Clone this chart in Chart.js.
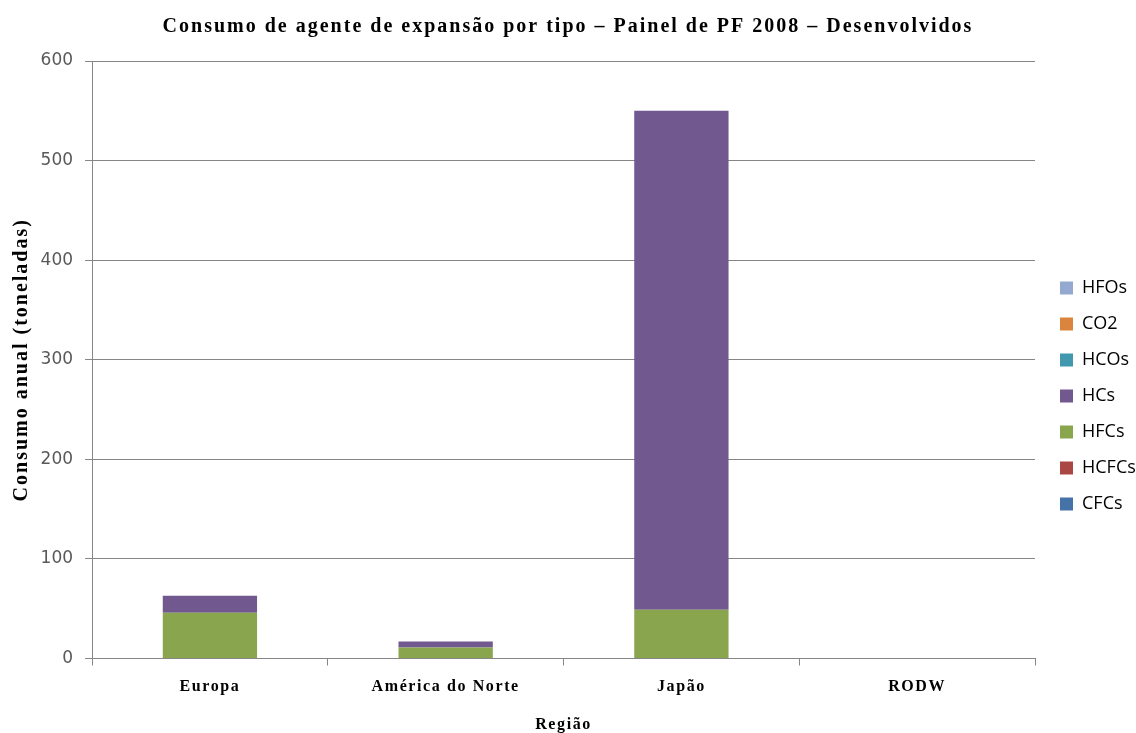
<!DOCTYPE html>
<html>
<head>
<meta charset="utf-8">
<script src="https://cdn.jsdelivr.net/npm/chart.js@4/dist/chart.umd.min.js"></script>
<style>
  html, body { margin: 0; padding: 0; background: #fff; }
  #wrap { width: 1136px; height: 733px; }
</style>
</head>
<body>
<div id="wrap"><canvas id="myChart"></canvas></div>
<script>
const regions = ['Europa', 'América do Norte', 'Japão', 'RODW'];

// tonnes per year, stacked bottom to top
const cfcs  = [0, 0, 0, 0];
const hcfcs = [0, 0, 0, 0];
const hfcs  = [46, 11, 49, 0];
const hcs   = [17, 6, 501, 0];
const hcos  = [0, 0, 0, 0];
const co2   = [0, 0, 0, 0];
const hfos  = [0, 0, 0, 0];

const yTicks = [0, 100, 200, 300, 400, 500, 600];

const SERIF = 'Liberation Serif';
const GRID = '#868686';

// the serif captions are set with a bit of open tracking
const proto = CanvasRenderingContext2D.prototype;
const baseFill = proto.fillText;
const baseMeasure = proto.measureText;
const setTracking = (ctx) => {
    if (!('letterSpacing' in ctx)) return;
    const m = /(\d+(?:\.\d+)?)px/.exec(ctx.font);
    ctx.letterSpacing = (m && ctx.font.includes(SERIF)) ? (parseFloat(m[1]) * 0.1).toFixed(2) + 'px' : '0px';
};
proto.fillText = function (...args) { setTracking(this); return baseFill.apply(this, args); };
proto.measureText = function (...args) { setTracking(this); return baseMeasure.apply(this, args); };

// legend sits a little right of the plot, level with the middle of it
const legendPlacement = {
    id: 'legendPlacement',
    afterLayout(chart) {
        chart.legend.left = chart.chartArea.right + 7;
        chart.legend.top = 261;
    }
};

const series = [
    ['CFCs', cfcs, '#4572A7'],
    ['HCFCs', hcfcs, '#AA4643'],
    ['HFCs', hfcs, '#89A54E'],
    ['HCs', hcs, '#71588F'],
    ['HCOs', hcos, '#4198AF'],
    ['CO2', co2, '#DB843D'],
    ['HFOs', hfos, '#93A9CF']
];

const ctx = document.getElementById('myChart').getContext('2d');
const myChart = new Chart(ctx, {
    type: 'bar',
    data: {
        labels: regions,
        datasets: series.map(([label, data, color]) => ({
            label: label,
            data: data,
            backgroundColor: color,
            borderWidth: 0,
            categoryPercentage: 0.4,
            barPercentage: 1
        }))
    },
    options: {
        responsive: true,
        maintainAspectRatio: false,
        animation: false,
        layout: { padding: { left: 0, right: 0, top: 0, bottom: 0 } },
        plugins: {
            title: {
                display: true,
                text: 'Consumo de agente de expansão por tipo – Painel de PF 2008 – Desenvolvidos',
                color: '#000',
                font: { family: SERIF, size: 20, weight: 'bold', lineHeight: 1.2 },
                padding: { top: 14.5, bottom: 22.5 }
            },
            legend: {
                position: 'right',
                align: 'start',
                reverse: true,
                maxWidth: 101,
                labels: {
                    boxWidth: 13,
                    boxHeight: 13,
                    padding: 18,
                    color: '#000',
                    font: { family: 'Open Sans', size: 18 }
                }
            },
            tooltip: { enabled: false }
        },
        scales: {
            x: {
                stacked: true,
                grid: { drawOnChartArea: false, color: GRID, tickLength: 7 },
                border: { color: GRID },
                ticks: {
                    color: '#000',
                    padding: 12,
                    font: { family: SERIF, size: 16, weight: 'bold', lineHeight: 1.2 }
                },
                title: {
                    display: true,
                    text: 'Região',
                    color: '#000',
                    font: { family: SERIF, size: 16, weight: 'bold', lineHeight: 1 },
                    padding: { top: 8.3, bottom: 0 }
                }
            },
            y: {
                stacked: true,
                min: yTicks[0],
                max: yTicks[yTicks.length - 1],
                afterBuildTicks: (scale) => { scale.ticks = yTicks.map(v => ({ value: v })); },
                grid: { color: GRID, tickLength: 7 },
                border: { color: GRID },
                ticks: {
                    color: '#595959',
                    padding: 12,
                    font: { family: 'DejaVu Sans', size: 17 }
                },
                title: {
                    display: true,
                    text: 'Consumo anual (toneladas)',
                    color: '#000',
                    font: { family: SERIF, size: 20, weight: 'bold', lineHeight: 1.2 },
                    padding: { top: 10, bottom: -5.4 }
                }
            }
        }
    },
    plugins: [legendPlacement]
});
</script>
</body>
</html>
